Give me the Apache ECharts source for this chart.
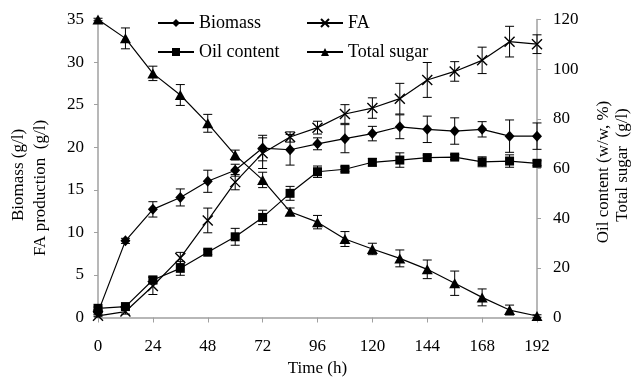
<!DOCTYPE html>
<html>
<head>
<meta charset="utf-8">
<script src="https://cdn.jsdelivr.net/npm/echarts@6/dist/echarts.min.js"></script>
<style>html,body{margin:0;padding:0;background:#fff;}#c{width:638px;height:377px;}</style>
</head>
<body>
<div id="c"></div>
<script>
const times = [0,12,24,36,48,60,72,84,96,108,120,132,144,156,168,180,192];
const xTicks = [0,24,48,72,96,120,144,168,192];
const biomass    = [0.6,9.0,12.7,14.1,16.0,17.3,19.9,19.7,20.4,21.0,21.6,22.4,22.1,21.9,22.1,21.3,21.3];
const biomassErr = [0.2,0.3,0.9,1.0,1.3,0.7,1.5,1.8,0.7,1.65,0.85,1.4,1.55,1.55,0.9,1.9,1.55];
const fa         = [0.2,0.7,3.7,7.0,11.4,15.9,19.3,21.2,22.3,23.9,24.6,25.7,27.9,28.9,30.2,32.4,32.1];
const faErr      = [0.1,0.3,1.0,0.65,1.45,0.9,1.8,0.6,0.75,1.1,1.2,1.8,2.05,1.15,1.55,1.8,1.1];
const oil        = [3.7,4.4,15.1,19.8,26.3,32.5,40.3,50.0,58.7,59.7,62.5,63.4,64.4,64.6,62.7,63.0,62.1];
const oilErr     = [0.5,0.5,1.5,2.8,1.0,3.4,2.9,2.8,2.3,1.0,1.5,2.9,1.0,1.0,2.0,2.5,1.0];
const sugar      = [120,112.4,98.3,89.6,78.2,65.4,55.4,42.6,38.4,31.6,27.6,23.8,19.4,13.8,8.1,3.0,0.6];
const sugarErr   = [0.5,4.2,2.9,4.2,3.6,2.0,3.1,1.5,2.7,3.0,2.3,3.4,3.75,4.9,3.4,2.0,0.5];

const FONT = 'Liberation Serif';
const AXIS_GREY = '#a0a0a0';

function pts(vals){ return times.map((t,i)=>[t, vals[i]]); }
function errPts(vals, errs){ return times.map((t,i)=>[t, vals[i]-errs[i], vals[i]+errs[i]]); }

function errRender(params, api){
  const x = api.value(0);
  const lo = api.coord([x, api.value(1)]);
  const hi = api.coord([x, api.value(2)]);
  const w = 4.5;
  const st = {stroke:'#000', lineWidth:1};
  return {type:'group', children:[
    {type:'line', shape:{x1:lo[0],y1:lo[1],x2:hi[0],y2:hi[1]}, style:st},
    {type:'line', shape:{x1:lo[0]-w,y1:lo[1],x2:lo[0]+w,y2:lo[1]}, style:st},
    {type:'line', shape:{x1:hi[0]-w,y1:hi[1],x2:hi[0]+w,y2:hi[1]}, style:st}
  ]};
}
function errSeries(name, vals, errs, yi){
  return {type:'custom', name:name, yAxisIndex:yi, renderItem:errRender,
    data:errPts(vals, errs), encode:{x:0, y:[1,2]}, z:1, silent:true};
}
function lineSeries(name, vals, yi, symbol, size, extra){
  const s = {type:'line', name:name, yAxisIndex:yi, data:pts(vals),
    symbol:symbol, symbolSize:size, showSymbol:true,
    lineStyle:{color:'#000', width:1.2},
    itemStyle:{color:'#000', borderColor:'#000', borderWidth:0},
    z:3, animation:false};
  return Object.assign(s, extra||{});
}
const xPath = 'path://M0,0L10,10M10,0L0,10';

const legendBase = {orient:'horizontal', padding:0, itemWidth:36, itemHeight:10, itemGap:10,
  textStyle:{fontFamily:FONT, fontSize:18, color:'#000'}, selectedMode:false};

const option = {
  animation:false,
  backgroundColor:'#fff',
  grid:{left:98, right:101, top:19.5, bottom:59.5, containLabel:false, outerBoundsMode:'none'},
  legend:[
    Object.assign({}, legendBase, {data:['Biomass'], left:157, top:14}),
    Object.assign({}, legendBase, {data:['FA'], left:306, top:14}),
    Object.assign({}, legendBase, {data:['Oil content'], left:157, top:43}),
    Object.assign({}, legendBase, {data:['Total sugar'], left:306, top:43})
  ],
  xAxis:{type:'value', min:0, max:192, interval:24,
    name:'Time (h)', nameLocation:'middle', nameGap:43,
    nameTextStyle:{fontFamily:FONT, fontSize:17, color:'#000'},
    axisLine:{lineStyle:{color:AXIS_GREY, width:1.5}},
    axisTick:{show:true, inside:false, length:5, lineStyle:{color:AXIS_GREY}},
    axisLabel:{fontFamily:FONT, fontSize:17, color:'#000', margin:21,
      customValues:xTicks},
    splitLine:{show:false}},
  yAxis:[
    {type:'value', min:0, max:35, interval:5, position:'left',
     axisLine:{show:true, lineStyle:{color:AXIS_GREY, width:1.5}},
     axisTick:{show:true, inside:false, length:4, lineStyle:{color:AXIS_GREY}},
     axisLabel:{fontFamily:FONT, fontSize:17, color:'#000', margin:14},
     splitLine:{show:false}},
    {type:'value', min:0, max:120, interval:20, position:'right',
     axisLine:{show:true, lineStyle:{color:AXIS_GREY, width:1.5}},
     axisTick:{show:true, inside:false, length:4, lineStyle:{color:AXIS_GREY}},
     axisLabel:{fontFamily:FONT, fontSize:17, color:'#000', margin:16},
     splitLine:{show:false}}
  ],
  graphic:[
    {type:'text', x:19, y:175, rotation:Math.PI/2,
     style:{text:'Biomass (g/l)', font:'17px "Liberation Serif"', fill:'#000', align:'center', verticalAlign:'middle'}},
    {type:'text', x:41, y:188, rotation:Math.PI/2,
     style:{text:'FA production  (g/l)', font:'17px "Liberation Serif"', fill:'#000', align:'center', verticalAlign:'middle'}},
    {type:'text', x:604, y:172, rotation:Math.PI/2,
     style:{text:'Oil content (w/w, %)', font:'17px "Liberation Serif"', fill:'#000', align:'center', verticalAlign:'middle'}},
    {type:'text', x:623, y:165, rotation:Math.PI/2,
     style:{text:'Total sugar  (g/l)', font:'17px "Liberation Serif"', fill:'#000', align:'center', verticalAlign:'middle'}}
  ],
  series:[
    errSeries('e_biomass', biomass, biomassErr, 0),
    errSeries('e_fa', fa, faErr, 0),
    errSeries('e_oil', oil, oilErr, 1),
    errSeries('e_sugar', sugar, sugarErr, 1),
    lineSeries('Biomass', biomass, 0, 'diamond', [10,11]),
    lineSeries('FA', fa, 0, xPath, 10, {itemStyle:{color:'none', borderColor:'#000', borderWidth:1.4}}),
    lineSeries('Oil content', oil, 1, 'rect', 9),
    lineSeries('Total sugar', sugar, 1, 'triangle', [11,10])
  ]
};
const chart = echarts.init(document.getElementById('c'), null, {renderer:'canvas'});
chart.setOption(option);
</script>
</body>
</html>
